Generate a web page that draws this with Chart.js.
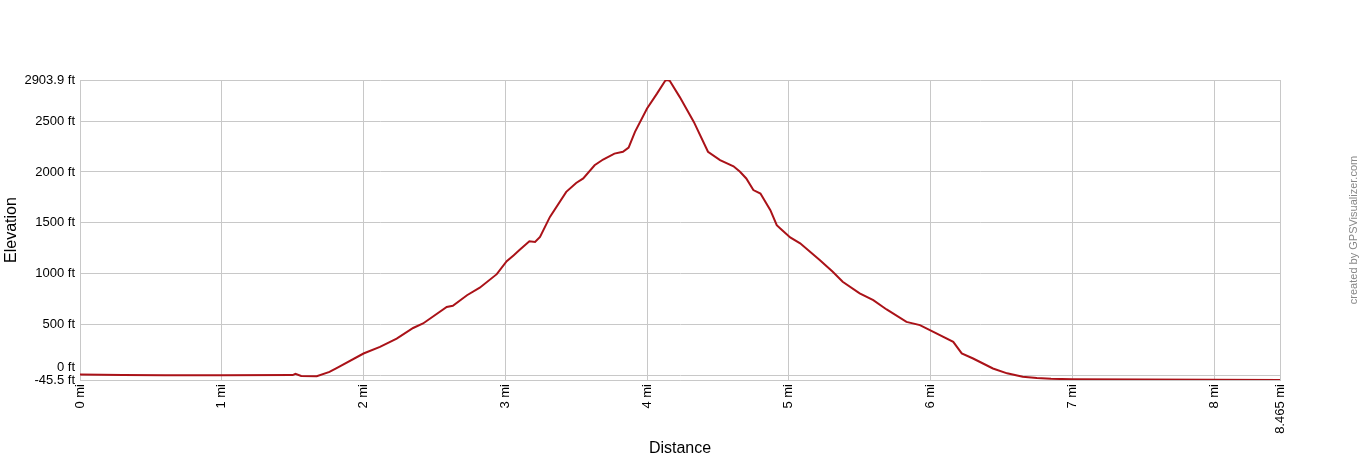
<!DOCTYPE html>
<html>
<head>
<meta charset="utf-8">
<script src="https://cdn.jsdelivr.net/npm/chart.js@4"></script>
<style>
  html, body { margin: 0; padding: 0; background: #fff; }
  #wrap { width: 1360px; height: 460px; position: relative; }
</style>
</head>
<body>
<div id="wrap"><canvas id="profile"></canvas></div>
<script>
// distance along track (mi) and elevation (ft)
const distances = [
    0, 0.3, 0.6, 1.0, 1.5, 1.52, 1.56, 1.67, 1.76, 1.82,
    2.0, 2.116, 2.234, 2.35, 2.42, 2.587, 2.63, 2.73, 2.82, 2.94,
    3.01, 3.06, 3.10, 3.17, 3.21, 3.245, 3.315, 3.43, 3.50, 3.55,
    3.63, 3.69, 3.77, 3.83, 3.87, 3.915, 4.0, 4.07, 4.127, 4.14,
    4.16, 4.23, 4.33, 4.43, 4.515, 4.61, 4.656, 4.70, 4.75, 4.80,
    4.87, 4.915, 4.94, 5.01, 5.08, 5.22, 5.31, 5.38, 5.50, 5.596,
    5.69, 5.83, 5.925, 6.02, 6.16, 6.22, 6.30, 6.44, 6.54, 6.65,
    6.75, 6.85, 7.0, 7.5, 8.0, 8.465
];
const elevations = [
    8, 4, 1, 2, 3, 16, -6, -8, 34, 78,
    215, 280, 362, 466, 510, 672, 684, 788, 862, 995,
    1122, 1182, 1232, 1318, 1312, 1362, 1558, 1804, 1892, 1936,
    2066, 2122, 2180, 2198, 2240, 2394, 2624, 2770, 2895, 2903.9,
    2896, 2738, 2492, 2198, 2116, 2056, 2002, 1936, 1822, 1788,
    1624, 1476, 1444, 1356, 1298, 1132, 1018, 920, 806, 740,
    648, 526, 494, 428, 330, 216, 166, 68, 20, -14,
    -26, -34, -38, -40, -42, -45.5
];
const yTicks = [-45.5, 0, 500, 1000, 1500, 2000, 2500, 2903.9];
const xTicks = [0, 1, 2, 3, 4, 5, 6, 7, 8, 8.465];

const creditPlugin = {
    id: 'credit',
    afterDraw(chart) {
        const c = chart.ctx;
        c.save();
        c.translate(1354, 230);
        c.rotate(-Math.PI / 2);
        c.font = '11px "Liberation Sans", Arial, sans-serif';
        c.fillStyle = '#888';
        c.textAlign = 'center';
        c.textBaseline = 'middle';
        c.fillText('created by GPSVisualizer.com', 0, 0);
        c.restore();
    }
};

const pts = distances.map((d, i) => ({ x: d, y: elevations[i] }));

new Chart(document.getElementById('profile'), {
    type: 'line',
    data: {
        datasets: [{
            data: pts,
            borderColor: '#aa1218',
            borderWidth: 2,
            pointRadius: 0,
            tension: 0,
            fill: false
        }]
    },
    options: {
        responsive: true,
        maintainAspectRatio: false,
        animation: false,
        layout: { padding: { left: 0, top: 80, right: 80, bottom: 0 } },
        plugins: {
            legend: { display: false },
            tooltip: { enabled: false }
        },
        scales: {
            x: {
                type: 'linear',
                min: 0,
                max: 8.465,
                afterBuildTicks: (s) => { s.ticks = xTicks.map(v => ({ value: v })); },
                afterFit: (s) => { s.height = 80; },
                grid: { color: '#c8c8c8', drawTicks: false },
                border: { color: '#c8c8c8' },
                ticks: {
                    autoSkip: false,
                    minRotation: 90,
                    maxRotation: 90,
                    padding: 4,
                    color: '#000',
                    font: { family: '"Liberation Sans", Arial, sans-serif', size: 13 },
                    callback: (v) => v + ' mi'
                },
                title: {
                    display: true,
                    text: 'Distance',
                    color: '#000',
                    font: { family: '"Liberation Sans", Arial, sans-serif', size: 16 },
                    padding: { top: 0, bottom: 2 }
                }
            },
            y: {
                min: -45.5,
                max: 2903.9,
                afterBuildTicks: (s) => { s.ticks = yTicks.map(v => ({ value: v })); },
                afterFit: (s) => { s.width = 80; },
                grid: { color: '#c8c8c8', drawTicks: false },
                border: { color: '#c8c8c8' },
                ticks: {
                    autoSkip: false,
                    padding: 5,
                    color: '#000',
                    font: { family: '"Liberation Sans", Arial, sans-serif', size: 13 },
                    // lift the 0 ft label so it clears the -45.5 ft one
                    callback: (v) => v === 0 ? ['0 ft', ''] : v + ' ft'
                },
                title: {
                    display: true,
                    text: 'Elevation',
                    color: '#000',
                    font: { family: '"Liberation Sans", Arial, sans-serif', size: 16 },
                    padding: { top: 2, bottom: 0 }
                }
            }
        }
    },
    plugins: [creditPlugin]
});
</script>
</body>
</html>
